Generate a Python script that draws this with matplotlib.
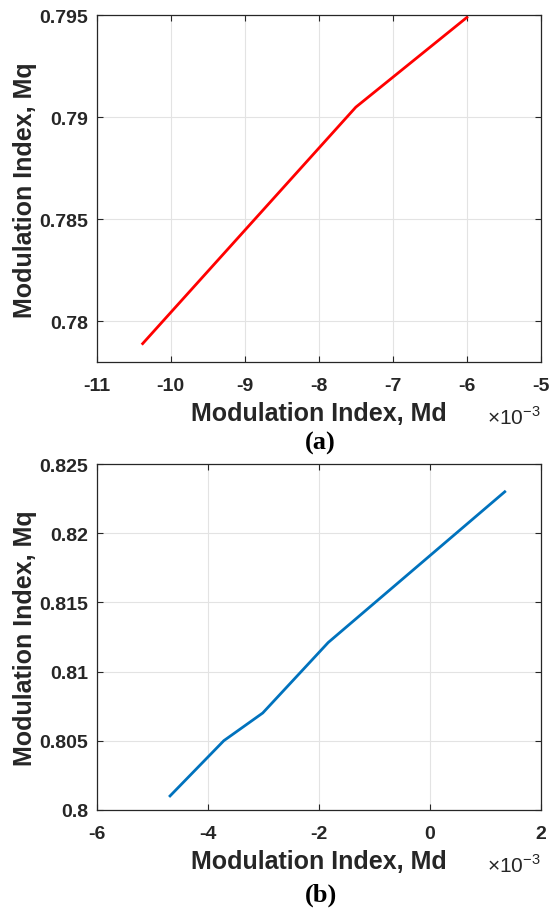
import matplotlib.pyplot as plt

plt.rcParams['font.family'] = ['Liberation Sans', 'DejaVu Sans']
plt.rcParams['mathtext.fontset'] = 'custom'
plt.rcParams['mathtext.rm'] = 'Liberation Sans'

# panel (a): Md (x1e-3) vs Mq
md_a = [-10.38, -7.50, -6.00]
mq_a = [0.7789, 0.7905, 0.7949]

# panel (b)
md_b = [-4.68, -3.71, -3.01, -1.83, 1.35]
mq_b = [0.8010, 0.8050, 0.8070, 0.8121, 0.8230]

xticks_a = [-11, -10, -9, -8, -7, -6, -5]
yticks_a = [0.78, 0.785, 0.79, 0.795]
ytlabels_a = ['0.78', '0.785', '0.79', '0.795']
xticks_b = [-6, -4, -2, 0, 2]
yticks_b = [0.8, 0.805, 0.81, 0.815, 0.82, 0.825]
ytlabels_b = ['0.8', '0.805', '0.81', '0.815', '0.82', '0.825']

fig = plt.figure(figsize=(5.53, 9.12), dpi=100)
ax1 = fig.add_axes([0.175, 0.602, 0.803, 0.380])
ax2 = fig.add_axes([0.175, 0.111, 0.803, 0.379])


def style(ax, xt, yt, ytl, xlim, ylim):
    ax.set_xlim(*xlim)
    ax.set_ylim(*ylim)
    ax.set_xticks(xt)
    ax.set_xticklabels([str(v) for v in xt])
    ax.set_yticks(yt)
    ax.set_yticklabels(ytl)
    ax.grid(True, color='#e3e3e3', linewidth=0.8)
    ax.set_axisbelow(True)
    ax.tick_params(direction='in', top=True, right=True, length=4, width=0.8,
                   colors='#262626', labelsize=14)
    ax.tick_params(axis='x', pad=11)
    ax.tick_params(axis='y', pad=6)
    for lab in ax.get_xticklabels() + ax.get_yticklabels():
        lab.set_fontweight('bold')
        lab.set_color('#262626')
    for sp in ax.spines.values():
        sp.set_color('#262626')
        sp.set_linewidth(0.9)
    ax.set_xlabel('Modulation Index, Md', fontsize=18, fontweight='bold',
                  color='#262626', labelpad=5)
    ax.set_ylabel('Modulation Index, Mq', fontsize=18, fontweight='bold',
                  color='#262626', labelpad=2)
    ax.text(1.0, -0.158, r'$\times10^{-3}$', transform=ax.transAxes,
            ha='right', va='center', fontsize=15, color='#262626')


ax1.plot(md_a, mq_a, color='#ff0000', linewidth=2)
style(ax1, xticks_a, yticks_a, ytlabels_a, (-11, -5), (0.778, 0.795))

ax2.plot(md_b, mq_b, color='#0072bd', linewidth=2)
style(ax2, xticks_b, yticks_b, ytlabels_b, (-6, 2), (0.8, 0.825))

fig.text(0.58, 1 - 443 / 912, '(a)', ha='center', va='center', fontsize=19,
         fontweight='bold', family='Liberation Serif')
fig.text(0.58, 1 - 895 / 912, '(b)', ha='center', va='center', fontsize=19,
         fontweight='bold', family='Liberation Serif')

plt.savefig('out.png', dpi=100)
